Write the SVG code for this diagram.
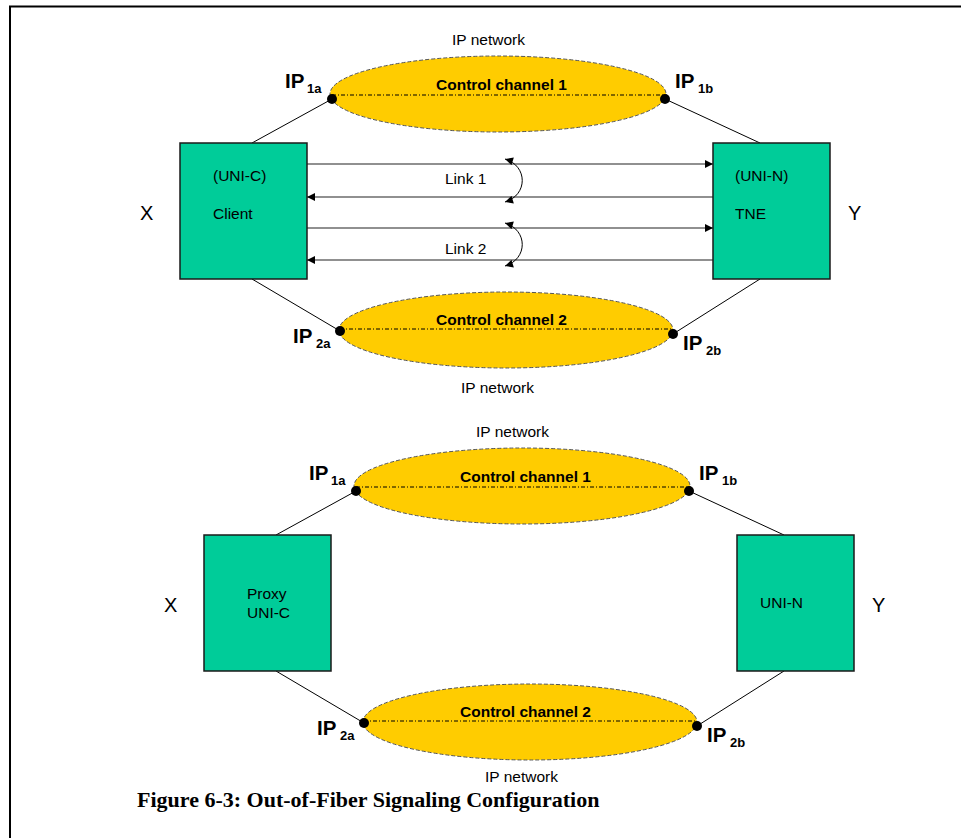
<svg xmlns="http://www.w3.org/2000/svg" width="961" height="838" viewBox="0 0 961 838">
<defs>
<style>
.box{fill:#00CC99;stroke:#1a1a1a;stroke-width:1.5}
.ell{fill:#FFCC00;stroke:#555;stroke-width:1;stroke-dasharray:4 2}
.cc{stroke:#000;stroke-width:1;stroke-dasharray:4 2 1 2;fill:none}
.ln{stroke:#000;stroke-width:1;fill:none}
.lk{stroke:#222;stroke-width:1.2;fill:none}
.dot{fill:#000}
.t{font-family:"Liberation Sans",Arial,sans-serif;font-size:15.5px;fill:#000}
.b{font-family:"Liberation Sans",Arial,sans-serif;font-weight:bold;fill:#000}
.ip{font-size:20.5px}
.sub{font-size:13px}
.ccl{font-size:15.5px}
.xy{font-family:"Liberation Sans",Arial,sans-serif;font-size:20px;fill:#000}
.cap{font-family:"Liberation Serif","Times New Roman",serif;font-weight:bold;font-size:22px;fill:#000}
</style>
<marker id="ah" viewBox="0 0 10 10" refX="10" refY="5" markerWidth="10" markerHeight="8" markerUnits="userSpaceOnUse" orient="auto-start-reverse">
<path d="M0,0 L10,5 L0,10 z" fill="#000"/>
</marker>
</defs>
<rect width="961" height="838" fill="#fff"/>
<path d="M10,838 L10,6.5 L961,6.5" fill="none" stroke="#000" stroke-width="2"/>

<g id="connectors">
<line class="ln" x1="252" y1="143" x2="332" y2="99"/>
<line class="ln" x1="760" y1="143" x2="665" y2="99"/>
<line class="ln" x1="252" y1="279" x2="340" y2="331"/>
<line class="ln" x1="760" y1="279" x2="673" y2="334"/>
<line class="lk" x1="307" y1="164" x2="713" y2="164" marker-end="url(#ah)"/>
<line class="lk" x1="713" y1="197" x2="307" y2="197" marker-end="url(#ah)"/>
<line class="lk" x1="307" y1="228" x2="713" y2="228" marker-end="url(#ah)"/>
<line class="lk" x1="713" y1="260" x2="307" y2="260" marker-end="url(#ah)"/>
<path class="ln" d="M505,159 C528,166 528,195 505,202" marker-start="url(#ah)" marker-end="url(#ah)"/>
<path class="ln" d="M505,223 C528,230 528,259 505,266" marker-start="url(#ah)" marker-end="url(#ah)"/>
<line class="ln" x1="276" y1="535" x2="356" y2="491"/>
<line class="ln" x1="784" y1="535" x2="689" y2="491"/>
<line class="ln" x1="276" y1="671" x2="364" y2="723"/>
<line class="ln" x1="784" y1="671" x2="697" y2="726"/>
</g>

<g id="cc1-top">
<ellipse class="ell" cx="498" cy="94" rx="168" ry="38"/>
<line class="cc" x1="332" y1="95" x2="665" y2="95"/>
<circle class="dot" cx="332" cy="99" r="5"/>
<circle class="dot" cx="665" cy="99" r="5"/>
<text class="b ccl" x="436" y="90">Control channel 1</text>
<text class="t" x="452" y="45">IP network</text>
<text class="b ip" x="285" y="88">IP</text><text class="b sub" x="307" y="93">1a</text>
<text class="b ip" x="675" y="88">IP</text><text class="b sub" x="698" y="93">1b</text>
</g>

<g id="cc2-top">
<ellipse class="ell" cx="506" cy="330" rx="167" ry="38"/>
<line class="cc" x1="340" y1="329" x2="673" y2="329"/>
<circle class="dot" cx="340" cy="331" r="5"/>
<circle class="dot" cx="673" cy="334" r="5"/>
<text class="b ccl" x="436" y="325">Control channel 2</text>
<text class="t" x="461" y="393">IP network</text>
<text class="b ip" x="293" y="343">IP</text><text class="b sub" x="316" y="348">2a</text>
<text class="b ip" x="683" y="350">IP</text><text class="b sub" x="706" y="355">2b</text>
</g>

<g id="client">
<rect class="box" x="180" y="143" width="127" height="136"/>
<text class="t" x="213" y="181">(UNI-C)</text>
<text class="t" x="213" y="219">Client</text>
</g>
<g id="tne">
<rect class="box" x="713" y="143" width="117" height="136"/>
<text class="t" x="735" y="181">(UNI-N)</text>
<text class="t" x="735" y="219">TNE</text>
</g>
<text class="t" x="445" y="184">Link 1</text>
<text class="t" x="445" y="254">Link 2</text>
<text class="xy" x="140" y="220">X</text>
<text class="xy" x="848" y="220">Y</text>

<g id="cc1-bottom">
<ellipse class="ell" cx="522" cy="486" rx="168" ry="38"/>
<line class="cc" x1="356" y1="487" x2="689" y2="487"/>
<circle class="dot" cx="356" cy="491" r="5"/>
<circle class="dot" cx="689" cy="491" r="5"/>
<text class="b ccl" x="460" y="482">Control channel 1</text>
<text class="t" x="476" y="437">IP network</text>
<text class="b ip" x="309" y="480">IP</text><text class="b sub" x="331" y="485">1a</text>
<text class="b ip" x="699" y="480">IP</text><text class="b sub" x="722" y="485">1b</text>
</g>

<g id="cc2-bottom">
<ellipse class="ell" cx="530" cy="722" rx="167" ry="38"/>
<line class="cc" x1="364" y1="721" x2="697" y2="721"/>
<circle class="dot" cx="364" cy="723" r="5"/>
<circle class="dot" cx="697" cy="726" r="5"/>
<text class="b ccl" x="460" y="717">Control channel 2</text>
<text class="t" x="485" y="782">IP network</text>
<text class="b ip" x="317" y="735">IP</text><text class="b sub" x="340" y="740">2a</text>
<text class="b ip" x="707" y="742">IP</text><text class="b sub" x="730" y="747">2b</text>
</g>

<g id="proxy">
<rect class="box" x="204" y="535" width="127" height="136"/>
<text class="t" x="247" y="599">Proxy</text>
<text class="t" x="247" y="618">UNI-C</text>
</g>
<g id="unin">
<rect class="box" x="737" y="535" width="117" height="136"/>
<text class="t" x="760" y="608">UNI-N</text>
</g>
<text class="xy" x="164" y="612">X</text>
<text class="xy" x="872" y="612">Y</text>

<text class="cap" x="137" y="807">Figure 6-3: Out-of-Fiber Signaling Configuration</text>
</svg>
